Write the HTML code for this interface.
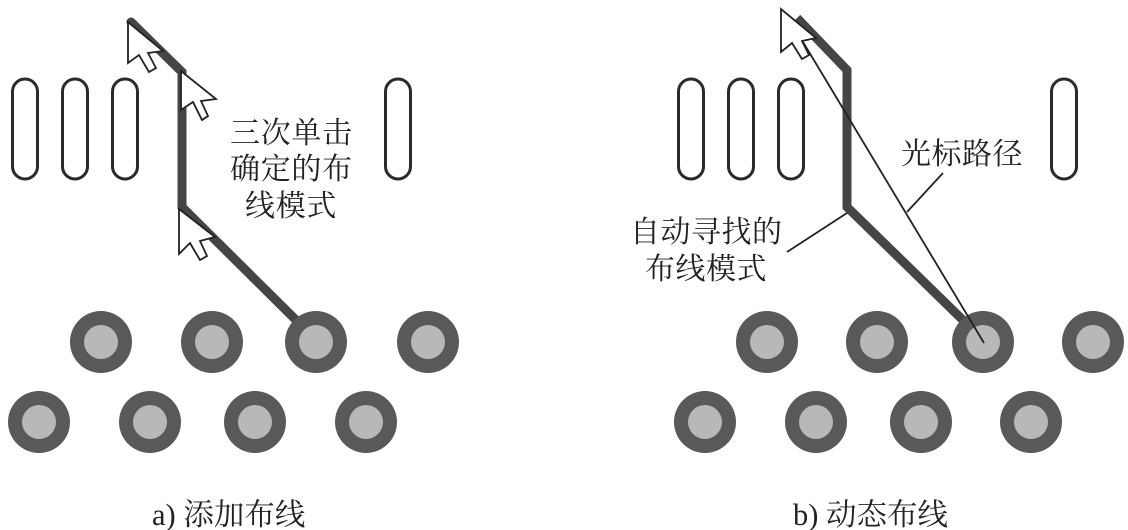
<!DOCTYPE html>
<html><head><meta charset="utf-8"><style>
html,body{margin:0;padding:0;background:#fff;width:1128px;height:530px;overflow:hidden}
svg{display:block}
text{font-family:"Liberation Serif","Noto Serif CJK SC",serif;fill:#222;font-size:30px}
.p{fill:#fff;stroke:#222;stroke-width:1.8;stroke-linejoin:miter}
.s{fill:#fff;stroke:#2a2a2a;stroke-width:3}
.w{fill:none;stroke:#464444;stroke-width:9;stroke-linejoin:miter}
.o{fill:#5a5858}.i{fill:#b8b8b8}
.l{stroke:#222;stroke-width:1.8;fill:none}
</style></head><body>
<svg width="1128" height="530" viewBox="0 0 1128 530" xmlns="http://www.w3.org/2000/svg">
<rect class="s" x="12.500" y="79" width="25" height="100" rx="12.500"/>
<rect class="s" x="62.500" y="79" width="25" height="100" rx="12.500"/>
<rect class="s" x="112.500" y="79" width="25" height="100" rx="12.500"/>
<rect class="s" x="385.500" y="79" width="25" height="100" rx="12.500"/>
<rect class="s" x="678.500" y="79" width="25" height="100" rx="12.500"/>
<rect class="s" x="728.500" y="79" width="25" height="100" rx="12.500"/>
<rect class="s" x="778.500" y="79" width="25" height="100" rx="12.500"/>
<rect class="s" x="1051.500" y="79" width="25" height="100" rx="12.500"/>
<polyline class="w" points="131,22 182,72 182,207 302,326" stroke-linecap="round"/>
<polyline class="w" points="797,18 847,70 847,207 969,326"/>
<g>
<circle class="o" cx="101" cy="342" r="31"/><circle class="i" cx="101" cy="342" r="17"/>
<circle class="o" cx="212" cy="342" r="31"/><circle class="i" cx="212" cy="342" r="17"/>
<circle class="o" cx="316" cy="342" r="31"/><circle class="i" cx="316" cy="342" r="17"/>
<circle class="o" cx="428" cy="342" r="31"/><circle class="i" cx="428" cy="342" r="17"/>
<circle class="o" cx="39" cy="422" r="31"/><circle class="i" cx="39" cy="422" r="17"/>
<circle class="o" cx="150" cy="422" r="31"/><circle class="i" cx="150" cy="422" r="17"/>
<circle class="o" cx="255" cy="422" r="31"/><circle class="i" cx="255" cy="422" r="17"/>
<circle class="o" cx="366" cy="422" r="31"/><circle class="i" cx="366" cy="422" r="17"/>
<circle class="o" cx="767" cy="342" r="31"/><circle class="i" cx="767" cy="342" r="17"/>
<circle class="o" cx="877" cy="342" r="31"/><circle class="i" cx="877" cy="342" r="17"/>
<circle class="o" cx="983" cy="342" r="31"/><circle class="i" cx="983" cy="342" r="17"/>
<circle class="o" cx="1093" cy="342" r="31"/><circle class="i" cx="1093" cy="342" r="17"/>
<circle class="o" cx="705" cy="422" r="31"/><circle class="i" cx="705" cy="422" r="17"/>
<circle class="o" cx="816" cy="422" r="31"/><circle class="i" cx="816" cy="422" r="17"/>
<circle class="o" cx="921" cy="422" r="31"/><circle class="i" cx="921" cy="422" r="17"/>
<circle class="o" cx="1031" cy="422" r="31"/><circle class="i" cx="1031" cy="422" r="17"/>
</g>
<polygon class="p" points="128,22 128,63 139,55 149,72 156,68 148,53 163,51"/>
<polygon class="p" points="181,71 181,110 193,102 202,120 208,116 201,101 216,99"/>
<polygon class="p" points="179,209 179,254 190,243 200,260 207,256 200,241 215,237"/>
<polygon class="p" points="781,9 781,52 792,43 802,59 809,55 802,41 816,38"/>
<line class="l" x1="803" y1="42" x2="984" y2="343"/>
<line class="l" x1="943" y1="173" x2="907" y2="212"/>
<line class="l" x1="847" y1="213" x2="787" y2="252"/>
<text x="230" y="143" letter-spacing="0.700">三次单击</text>
<text x="230" y="179" letter-spacing="0.700">确定的布</text>
<text x="245" y="216" letter-spacing="0.700">线模式</text>
<text x="901" y="164" letter-spacing="0.500">光标路径</text>
<text x="630" y="242" letter-spacing="0.500">自动寻找的</text>
<text x="645" y="279" letter-spacing="0.500">布线模式</text>
<text x="152" y="525" style="font-size:30.500px">a) 添加布线</text>
<text x="793" y="525" style="font-size:30.500px">b) 动态布线</text>
</svg>
</body></html>
